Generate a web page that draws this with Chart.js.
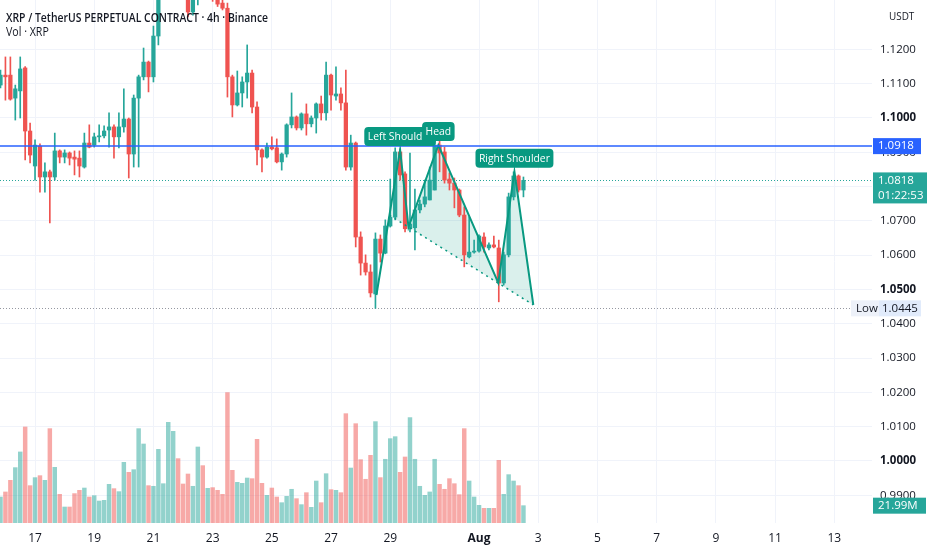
<!DOCTYPE html>
<html>
<head>
<meta charset="utf-8">
<script src="https://cdn.jsdelivr.net/npm/chart.js@4.4.1/dist/chart.umd.min.js"></script>
<style>
  html, body { margin: 0; padding: 0; background: #fff; }
  #wrap { width: 932px; height: 550px; position: relative; }
</style>
</head>
<body>
<div id="wrap"><canvas id="chart"></canvas></div>
<script>
// 4h candles, first one opens Jul 15 20:00 (hour -4 counted from Jul 16 00:00)
const opens = [1.1096,1.1125,1.1125,1.1058,1.1079,1.1146,1.0962,1.0860,1.0918,1.0828,
  1.0843,1.0828,1.0904,1.0886,1.0898,1.0886,1.0883,1.0857,1.0927,1.0921,
  1.0945,1.0948,1.0965,1.0974,1.0945,1.0974,1.0997,1.0895,1.1058,1.1120,
  1.1163,1.1120,1.1239,1.1378,1.1420,1.1470,1.1510,1.1460,1.1400,1.1309,
  1.1390,1.1420,1.1380,1.1410,1.1370,1.1335,1.1320,1.1120,1.1038,1.1073,
  1.1105,1.1131,1.1032,1.0907,1.0886,1.0915,1.0913,1.0872,1.0895,1.0980,
  1.1003,1.0971,1.1012,1.0983,1.1000,1.1041,1.1015,1.1125,1.1064,1.1070,
  1.1044,1.0857,1.0927,1.0653,1.0577,1.0551,1.0487,1.0647,1.0606,1.0685,
  1.0711,1.0901,1.0837,1.0677,1.0680,1.0732,1.0749,1.0761,1.0790,1.0921,
  1.0901,1.0822,1.0810,1.0790,1.0717,1.0595,1.0609,1.0612,1.0653,1.0621,
  1.0630,1.0621,1.0519,1.0601,1.0770,1.0831,1.0790]
const highs = [1.1140,1.1178,1.1178,1.1096,1.1178,1.1150,1.0985,1.0936,1.0925,1.0869,
  1.0848,1.0956,1.0907,1.0907,1.0901,1.0904,1.0904,1.0956,1.0980,1.0956,
  1.0980,1.0977,1.1015,1.0980,1.1015,1.1085,1.1000,1.1067,1.1125,1.1204,
  1.1166,1.1268,1.1420,1.1450,1.1500,1.1540,1.1530,1.1480,1.1420,1.1420,
  1.1450,1.1440,1.1440,1.1420,1.1380,1.1350,1.1335,1.1125,1.1137,1.1120,
  1.1213,1.1140,1.1047,1.0910,1.0927,1.0945,1.0939,1.0898,1.0983,1.1073,
  1.1006,1.1015,1.1041,1.1006,1.1044,1.1064,1.1163,1.1128,1.1149,1.1088,
  1.1140,1.0950,1.0930,1.0668,1.0601,1.0572,1.0665,1.0659,1.0703,1.0822,
  1.0913,1.0910,1.0843,1.0898,1.0793,1.0761,1.0819,1.0857,1.0927,1.0933,
  1.0915,1.0840,1.0825,1.0793,1.0741,1.0712,1.0644,1.0659,1.0665,1.0636,
  1.0656,1.0644,1.0609,1.0781,1.0843,1.0834,1.0828]
const lows = [1.1088,1.1052,1.1052,1.0994,1.1000,1.0878,1.0869,1.0819,1.0784,1.0784,
  1.0694,1.0819,1.0869,1.0869,1.0863,1.0834,1.0828,1.0854,1.0913,1.0915,
  1.0930,1.0942,1.0915,1.0883,1.0913,1.0959,1.0825,1.0857,1.0857,1.1111,
  1.1076,1.1105,1.1213,1.1360,1.1400,1.1450,1.1440,1.1380,1.1295,1.1300,
  1.1330,1.1360,1.1365,1.1340,1.1325,1.1315,1.1061,1.1003,1.1035,1.1032,
  1.1058,1.1015,1.0863,1.0843,1.0883,1.0907,1.0869,1.0848,1.0886,1.0971,
  1.0965,1.0965,1.0950,1.0974,1.0956,1.0994,1.0994,1.1023,1.1052,1.1023,
  1.0848,1.0848,1.0624,1.0542,1.0542,1.0478,1.0445,1.0580,1.0604,1.0682,
  1.0703,1.0819,1.0668,1.0668,1.0615,1.0723,1.0741,1.0761,1.0790,1.0843,
  1.0810,1.0790,1.0738,1.0712,1.0566,1.0592,1.0606,1.0609,1.0609,1.0615,
  1.0621,1.0464,1.0513,1.0595,1.0761,1.0784,1.0770]
const closes = [1.1125,1.1120,1.1055,1.1085,1.1143,1.0962,1.0892,1.0921,1.0828,1.0843,
  1.0828,1.0904,1.0886,1.0898,1.0883,1.0880,1.0860,1.0927,1.0915,1.0945,
  1.0948,1.0962,1.0974,1.0945,1.0974,1.0997,1.0895,1.1058,1.1120,1.1163,
  1.1120,1.1239,1.1378,1.1420,1.1470,1.1510,1.1460,1.1400,1.1309,1.1390,
  1.1420,1.1380,1.1410,1.1370,1.1332,1.1320,1.1120,1.1038,1.1073,1.1105,
  1.1131,1.1032,1.0907,1.0886,1.0915,1.0910,1.0872,1.0895,1.0980,1.1003,
  1.0971,1.1012,1.0983,1.1000,1.1041,1.1015,1.1125,1.1067,1.1070,1.1044,
  1.0857,1.0927,1.0653,1.0577,1.0551,1.0490,1.0647,1.0606,1.0685,1.0711,
  1.0901,1.0834,1.0677,1.0691,1.0732,1.0749,1.0770,1.0819,1.0921,1.0898,
  1.0819,1.0810,1.0790,1.0717,1.0601,1.0609,1.0612,1.0656,1.0624,1.0630,
  1.0624,1.0519,1.0601,1.0770,1.0831,1.0790,1.0818]
// volume in millions XRP
const volumes = [33.0,39.4,54.2,70.3,90.2,121.9,47.4,57.6,60.1,54.2,
  119.8,70.7,36.4,20.3,20.3,37.3,41.5,44.4,33.0,34.7,
  27.9,28.8,49.1,43.6,39.8,77.0,64.3,67.7,119.8,100.3,
  47.4,46.6,93.5,49.9,127.8,116.4,81.7,49.5,62.2,46.6,
  96.5,72.8,44.0,44.9,41.5,36.4,165.5,66.9,51.6,50.4,
  57.1,56.3,106.2,50.4,35.1,44.4,33.0,25.8,33.9,42.8,
  30.9,23.3,38.5,19.9,53.3,25.8,62.6,42.3,41.5,38.5,
  138.8,69.8,126.1,80.4,55.5,85.9,128.7,57.6,80.9,107.1,
  109.6,64.3,83.8,133.8,80.9,46.6,35.1,39.4,80.9,49.1,
  42.8,56.3,49.9,36.0,119.8,53.3,33.0,22.4,18.6,18.6,
  18.6,79.6,36.4,61.4,53.3,47.4,21.99]

const priceTicks = [0.99,1.00,1.01,1.02,1.03,1.04,1.05,1.06,1.07,1.08,1.09,1.10,1.11,1.12]
const dateTicks = ["07-17","07-19","07-21","07-23","07-25","07-27","07-29","08-01","08-03","08-05","08-07","08-09","08-11","08-13"]
const monthNames = ["Jan","Feb","Mar","Apr","May","Jun","Jul","Aug","Sep","Oct","Nov","Dec"]

// head and shoulders drawing: hours since Jul 16 00:00 / price
const patternHours = [300.8, 320, 326.8, 351, 399.6, 412.7, 428]
const patternPrices = [1.0484, 1.0907, 1.0682, 1.0921, 1.0519, 1.0843, 1.0455]
const patternNames = ["", "Left Shoulder", "", "Head", "", "Right Shoulder", ""]

const levelPrice = 1.0918
const lastPrice = 1.0818
const lowPrice = 1.0445
const countdown = "01:22:53"

const UP = "#26a69a"
const DOWN = "#ef5350"
const TEAL = "#089981"
const FONT = "'Open Sans', 'Noto Sans', sans-serif"

const candleHour = (i) => -4 + 4 * i
const dayHour = (s) => {
  const [m, d] = s.split("-").map(Number)
  return m === 7 ? (d - 16) * 24 : (31 - 16 + d) * 24
}
const dayLabel = (s) => {
  const [m, d] = s.split("-").map(Number)
  return d === 1 ? monthNames[m - 1] : String(d)
}

const isUp = opens.map((o, i) => closes[i] >= o)
const wickData = opens.map((o, i) => ({ x: candleHour(i), y: [lows[i], highs[i]] }))
const bodyData = opens.map((o, i) => ({ x: candleHour(i), y: [Math.min(o, closes[i]), Math.max(o, closes[i])] }))
const volData = volumes.map((v, i) => ({ x: candleHour(i), y: v }))

// neckline through both troughs, starts where the first leg crosses it
const neck = (h) => patternPrices[2] + (h - patternHours[2]) * (patternPrices[4] - patternPrices[2]) / (patternHours[4] - patternHours[2])
const f0 = patternPrices[0] - neck(patternHours[0])
const f1 = patternPrices[1] - neck(patternHours[1])
const t = f0 / (f0 - f1)
const crossH = patternHours[0] + t * (patternHours[1] - patternHours[0])
const crossP = neck(crossH)

function roundRect(ctx, x, y, w, h, r) {
  ctx.beginPath()
  ctx.moveTo(x + r, y)
  ctx.lineTo(x + w - r, y)
  ctx.quadraticCurveTo(x + w, y, x + w, y + r)
  ctx.lineTo(x + w, y + h - r)
  ctx.quadraticCurveTo(x + w, y + h, x + w - r, y + h)
  ctx.lineTo(x + r, y + h)
  ctx.quadraticCurveTo(x, y + h, x, y + h - r)
  ctx.lineTo(x, y + r)
  ctx.quadraticCurveTo(x, y, x + r, y)
  ctx.closePath()
}

// text a bit narrower than the font gives, like the screenshot
function narrowText(ctx, text, x, y, k) {
  ctx.save()
  ctx.translate(x, y)
  ctx.scale(k, 1)
  ctx.fillText(text, 0, 0)
  ctx.restore()
}

const overlay = {
  id: "overlay",
  beforeDatasetsDraw(chart) {
    const { ctx, chartArea: a, scales } = chart
    const px = (h) => scales.x.getPixelForValue(h)
    const py = (p) => scales.y.getPixelForValue(p)
    ctx.save()
    // dotted price lines
    ctx.setLineDash([1, 2])
    ctx.lineWidth = 1
    ctx.strokeStyle = UP
    ctx.beginPath()
    ctx.moveTo(a.left, Math.round(py(lastPrice)) + 0.5)
    ctx.lineTo(a.right, Math.round(py(lastPrice)) + 0.5)
    ctx.stroke()
    ctx.strokeStyle = "#9598a1"
    ctx.beginPath()
    ctx.moveTo(a.left, Math.round(py(lowPrice)) + 0.5)
    ctx.lineTo(a.right, Math.round(py(lowPrice)) + 0.5)
    ctx.stroke()
    ctx.setLineDash([])
    // pattern triangles
    ctx.fillStyle = "rgba(8,153,129,0.15)"
    const tris = [
      [[crossH, crossP], [patternHours[1], patternPrices[1]], [patternHours[2], patternPrices[2]]],
      [[patternHours[2], patternPrices[2]], [patternHours[3], patternPrices[3]], [patternHours[4], patternPrices[4]]],
      [[patternHours[4], patternPrices[4]], [patternHours[5], patternPrices[5]], [patternHours[6], patternPrices[6]]],
    ]
    tris.forEach((tr) => {
      ctx.beginPath()
      tr.forEach(([h, p], k) => (k ? ctx.lineTo(px(h), py(p)) : ctx.moveTo(px(h), py(p))))
      ctx.closePath()
      ctx.fill()
    })
    ctx.restore()
  },
  afterDraw(chart) {
    const { ctx, chartArea: a, scales } = chart
    const px = (h) => scales.x.getPixelForValue(h)
    const py = (p) => scales.y.getPixelForValue(p)
    ctx.save()
    // horizontal level line
    ctx.strokeStyle = "#2962ff"
    ctx.lineWidth = 1.5
    ctx.beginPath()
    ctx.moveTo(a.left, py(levelPrice))
    ctx.lineTo(a.right, py(levelPrice))
    ctx.stroke()

    // pattern labels
    ctx.font = "11.5px " + FONT
    ctx.textBaseline = "middle"
    ctx.textAlign = "left"
    const k = 0.9
    patternNames.forEach((name, i) => {
      if (!name) return
      const tw = ctx.measureText(name).width * k
      const w = tw + 7
      const cx = px(patternHours[i])
      const bottom = py(patternPrices[i]) - 4
      ctx.fillStyle = TEAL
      roundRect(ctx, cx - w / 2, bottom - 19, w, 19, 4)
      ctx.fill()
      ctx.fillStyle = "#fff"
      narrowText(ctx, name, cx - tw / 2, bottom - 9.5, k)
    })

    // titles
    ctx.fillStyle = "#131722"
    ctx.font = "600 13px " + FONT
    narrowText(ctx, "XRP / TetherUS PERPETUAL CONTRACT · 4h · Binance", 6, 18, 0.8)
    ctx.font = "12.5px " + FONT
    narrowText(ctx, "Vol · XRP", 6, 32, 0.85)
    ctx.font = "11px " + FONT
    narrowText(ctx, "USDT", 889, 17, 0.9)

    // axis labels
    const x0 = a.right + 1
    ctx.font = "11.5px " + FONT
    let yy = py(levelPrice)
    ctx.fillStyle = "#2962ff"
    ctx.fillRect(x0, yy - 8, 48, 16)
    ctx.fillStyle = "#fff"
    ctx.fillText(levelPrice.toFixed(4), x0 + 5, yy)

    yy = py(lastPrice)
    ctx.fillStyle = UP
    ctx.fillRect(x0, yy - 8, 54, 31)
    ctx.fillStyle = "#fff"
    ctx.fillText(lastPrice.toFixed(4), x0 + 5, yy)
    ctx.fillText(countdown, x0 + 5, yy + 15)

    yy = py(lowPrice)
    ctx.fillStyle = "#edf1f9"
    ctx.fillRect(a.right - 21, yy - 8, 28, 16)
    ctx.fillStyle = "#e1ebfb"
    ctx.fillRect(x0 + 6, yy - 8, 42, 16)
    ctx.fillStyle = "#131722"
    ctx.fillText("Low", a.right - 16, yy)
    ctx.fillText(lowPrice.toFixed(4), x0 + 9, yy)

    const lastVol = volumes[volumes.length - 1]
    yy = scales.vol.getPixelForValue(lastVol)
    ctx.fillStyle = UP
    ctx.fillRect(x0, yy - 8, 53, 16)
    ctx.fillStyle = "#fff"
    ctx.fillText(lastVol.toFixed(2) + "M", x0 + 5, yy)
    ctx.restore()
  },
}

const ctx = document.getElementById("chart").getContext("2d")
const chart = new Chart(ctx, {
  type: "bar",
  data: {
    datasets: [
      {
        type: "line",
        data: patternHours.map((h, i) => ({ x: h, y: patternPrices[i] })),
        borderColor: TEAL,
        borderWidth: 2,
        pointRadius: 0,
        order: 0,
      },
      {
        type: "line",
        data: [{ x: crossH, y: crossP }, { x: patternHours[6], y: patternPrices[6] }],
        borderColor: TEAL,
        borderWidth: 1.5,
        borderDash: [2, 4],
        pointRadius: 0,
        order: 0,
      },
      {
        data: bodyData,
        backgroundColor: isUp.map((u) => (u ? UP : DOWN)),
        barThickness: 3.6,
        minBarLength: 1,
        grouped: false,
        order: 1,
      },
      {
        data: wickData,
        backgroundColor: isUp.map((u) => (u ? UP : DOWN)),
        barThickness: 1,
        grouped: false,
        order: 2,
      },
      {
        data: volData,
        yAxisID: "vol",
        backgroundColor: isUp.map((u) => (u ? "rgba(38,166,154,0.5)" : "rgba(239,83,80,0.5)")),
        barThickness: 3.8,
        grouped: false,
        order: 3,
      },
    ],
  },
  options: {
    responsive: true,
    maintainAspectRatio: false,
    animation: false,
    layout: { padding: 0 },
    plugins: { legend: { display: false }, tooltip: { enabled: false } },
    scales: {
      x: {
        type: "linear",
        offset: false,
        min: -4.405,
        max: 702.6,
        grid: { color: "#f0f3fa", drawTicks: false, offset: false },
        border: { display: false },
        afterBuildTicks: (s) => { s.ticks = dateTicks.map((d) => ({ value: dayHour(d) })) },
        afterFit: (s) => { s.height = 27; s.paddingLeft = 0; s.paddingRight = 0 },
        ticks: {
          padding: 8,
          maxRotation: 0,
          autoSkip: false,
          color: "#131722",
          callback: (v, i) => dayLabel(dateTicks[i]),
          font: (c) => ({ family: FONT, size: 12, weight: c.tick && dayLabel(dateTicks[c.index]) === "Aug" ? "bold" : "normal" }),
        },
      },
      y: {
        position: "right",
        min: 0.98192,
        max: 1.1344,
        grid: { color: "#f0f3fa", drawTicks: false },
        border: { display: false },
        afterBuildTicks: (s) => { s.ticks = priceTicks.map((v) => ({ value: v })) },
        afterFit: (s) => { s.width = 60; s.paddingTop = 0; s.paddingBottom = 0 },
        ticks: {
          padding: 8,
          color: "#131722",
          callback: (v) => v.toFixed(4),
          font: (c) => ({ family: FONT, size: 11.5, weight: c.tick && Math.round(c.tick.value * 100) % 5 === 0 ? "bold" : "normal" }),
        },
      },
      vol: {
        display: false,
        min: 0,
        max: 664,
      },
    },
  },
  plugins: [overlay],
})
</script>
</body>
</html>
